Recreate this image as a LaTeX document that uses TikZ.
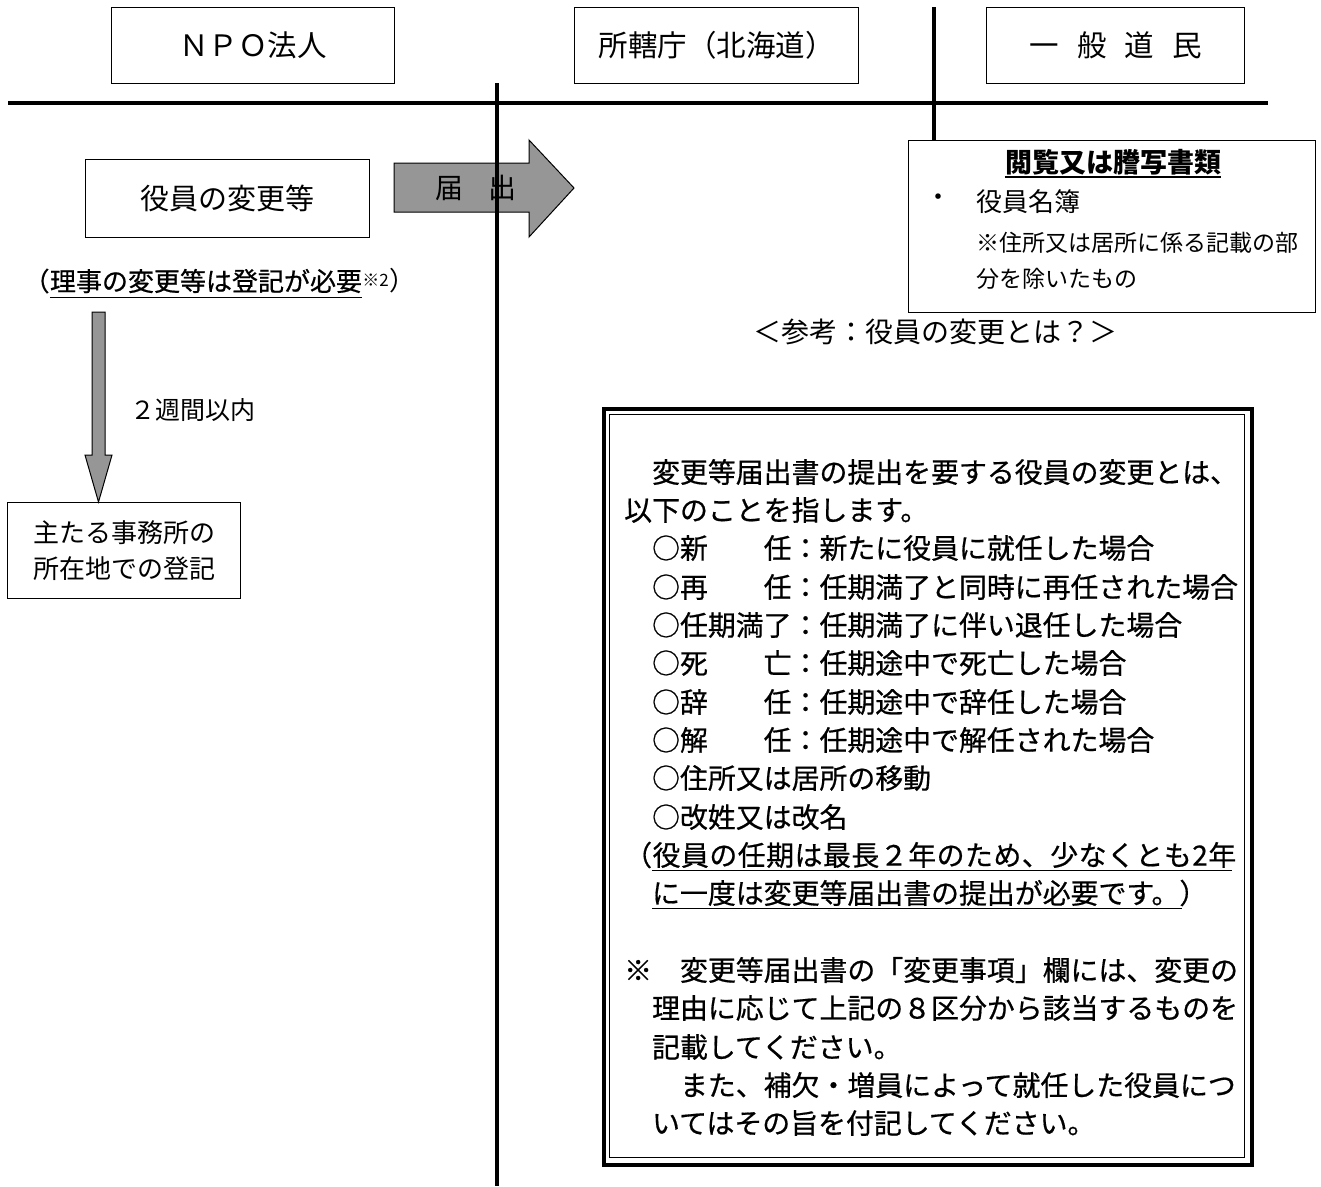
\documentclass[tikz,border=0pt]{standalone}
\usepackage{fontspec}
\setmainfont{Noto Sans CJK JP}
\newfontfamily\jpm[FakeBold=0.6]{Noto Sans CJK JP}
\newcommand\fsz[1]{\fontsize{#1}{#1}\selectfont}
\def\sprA#1{\ifx\relax#1\else#1\hfil\expandafter\sprA\fi}
\newcommand\spreadto[2]{\hbox to #1{\sprA#2\relax\unskip}}
\definecolor{arrgray}{RGB}{150,150,150}
\begin{document}
\begin{tikzpicture}[x=1pt,y=-1pt,
  frame/.style={draw,line width=1.3pt,inner sep=0pt,anchor=north west,align=center},
  txt/.style={inner sep=0pt,anchor=west},
  ctxt/.style={inner sep=0pt},
  blk/.style={draw,line width=1pt,fill=arrgray,line join=miter},
  bl/.style={inner sep=0pt,anchor=west,font=\jpm\fsz{27.9}},
  uline/.style={line width=1.5pt}]
\useasboundingbox[fill=white] (0,0) rectangle (1321,1186);

% header boxes
\node[frame,minimum width=283pt,minimum height=76pt,font=\fsz{29.5}] (npo) at (111,7) {ＮＰＯ法人};
\node[frame,minimum width=284pt,minimum height=76pt,font=\fsz{29.5}] (gov) at (574,7) {所轄庁（北海道）};
\node[frame,minimum width=258pt,minimum height=76pt,font=\fsz{29.5}] (pub) at (986,7) {{\spaceskip=18pt 一 般 道 民}};

% horizontal divider
\coordinate (hl) at (8,103);
\coordinate (hr) at (1268,103);
\draw[line width=4pt] (hl) -- (hr);

% officer change box
\node[frame,minimum width=284pt,minimum height=78pt,font=\fsz{29}] (chg) at (85,159) {役員の変更等};

% notification arrow
\draw[blk] (394,163) -- (529,163) -- (529,140) -- (574,188) -- (529,237) -- (529,212) -- (394,212) -- cycle;
\node[ctxt,font=\fsz{28}] (todoke) at (476,188) {{\spaceskip=25pt 届 出}};

% vertical dividers
\coordinate (vl) at (497,83);
\coordinate (vlb) at (497,1186);
\draw[line width=3.5pt] (vl) -- (vlb);

\node[frame,minimum width=407pt,minimum height=172pt] (read) at (908,140) {};
\coordinate (vr) at (934,7);
\draw[line width=3.5pt] (vr) -- (vr |- read.north);

% reading documents box
\node[ctxt,font=\fsz{27}\bfseries] (rtitle) at (1113,162) {閲覧又は謄写書類};
\draw[uline] ([yshift=-2pt]rtitle.south west) -- ([yshift=-2pt]rtitle.south east);
\node[ctxt,font=\fsz{26}] (dot) at (938,200) {・};
\node[txt,font=\fsz{26}] (r1) at (976,202) {役員名簿};
\node[txt,font=\fsz{23}] (r2) at (976,243) {※住所又は居所に係る記載の部};
\node[txt,font=\fsz{23}] (r3) at (976,279) {分を除いたもの};

% registration note
\node[ctxt,font=\jpm\fsz{26}] (riji) at (206,281) {理事の変更等は登記が必要};
\node[inner sep=0pt,anchor=east,font=\jpm\fsz{26}] (lp) at (riji.west) {（};
\node[inner sep=0pt,anchor=north west,font=\fsz{17}] (sup) at ([yshift=-5pt]riji.north east) {※2};
\node[inner sep=0pt,anchor=west,font=\fsz{26}] (rp) at (sup.east |- riji.west) {）};
\draw[uline] ([yshift=-4pt]riji.south west) -- ([yshift=-4pt]riji.south east);

% registration office box and down arrow
\node[frame,minimum width=233pt,minimum height=96pt,font=\fontsize{26}{36}\selectfont] (office) at (7,502) {主たる事務所の\\所在地での登記};
\draw[blk] (92,312) -- (105,312) -- (105,455) -- (112,455) -- (98.5,502) -- (85,455) -- (92,455) -- cycle;
\node[ctxt,font=\fsz{25}] (twoweeks) at (193,410) {２週間以内};

% reference label
\node[ctxt,font=\fsz{28}] (sanko) at (935,332) {＜参考：役員の変更とは？＞};

% big reference box (double border)
\node[draw,line width=3.5pt,inner sep=0pt,anchor=north west,minimum width=648pt,minimum height=756pt] (refout) at (602,407) {};
\node[draw,line width=1.8pt,inner sep=0pt,anchor=north west,minimum width=635pt,minimum height=743pt] (refin) at (608.5,413.5) {};

\node[bl] (l0) at (624,472) {　変更等届出書の提出を要する役員の変更とは、};
\node[bl] (l1) at (624,510) {以下のことを指します。};
\node[bl] (l2) at (624,548) {　○新　　任：新たに役員に就任した場合};
\node[bl] (l3) at (624,587) {　○再　　任：任期満了と同時に再任された場合};
\node[bl] (l4) at (624,625) {　○任期満了：任期満了に伴い退任した場合};
\node[bl] (l5) at (624,663) {　○死　　亡：任期途中で死亡した場合};
\node[bl] (l6) at (624,702) {　○辞　　任：任期途中で辞任した場合};
\node[bl] (l7) at (624,740) {　○解　　任：任期途中で解任された場合};
\node[bl] (l8) at (624,778) {　○住所又は居所の移動};
\node[bl] (l9) at (624,817) {　○改姓又は改名};
\node[bl] (l10) at (624,855) {\spreadto{612pt}{（役員の任期は最長２年のため、少なくとも2年}};
\draw[uline] ([xshift=28pt,yshift=-2pt]l10.south west) -- ([xshift=-4pt,yshift=-2pt]l10.south east);
\node[bl] (l11) at (624,893) {　に一度は変更等届出書の提出が必要です。）};
\draw[uline] ([xshift=28pt,yshift=-2pt]l11.south west) -- ([xshift=-26pt,yshift=-2pt]l11.south east);
\node[bl] (l13) at (624,970) {※　変更等届出書の「変更事項」欄には、変更の};
\node[bl] (l14) at (624,1008) {　理由に応じて上記の８区分から該当するものを};
\node[bl] (l15) at (624,1047) {　記載してください。};
\node[bl] (l16) at (624,1085) {　　また、補欠・増員によって就任した役員につ};
\node[bl] (l17) at (624,1123) {　いてはその旨を付記してください。};
\end{tikzpicture}
\end{document}
